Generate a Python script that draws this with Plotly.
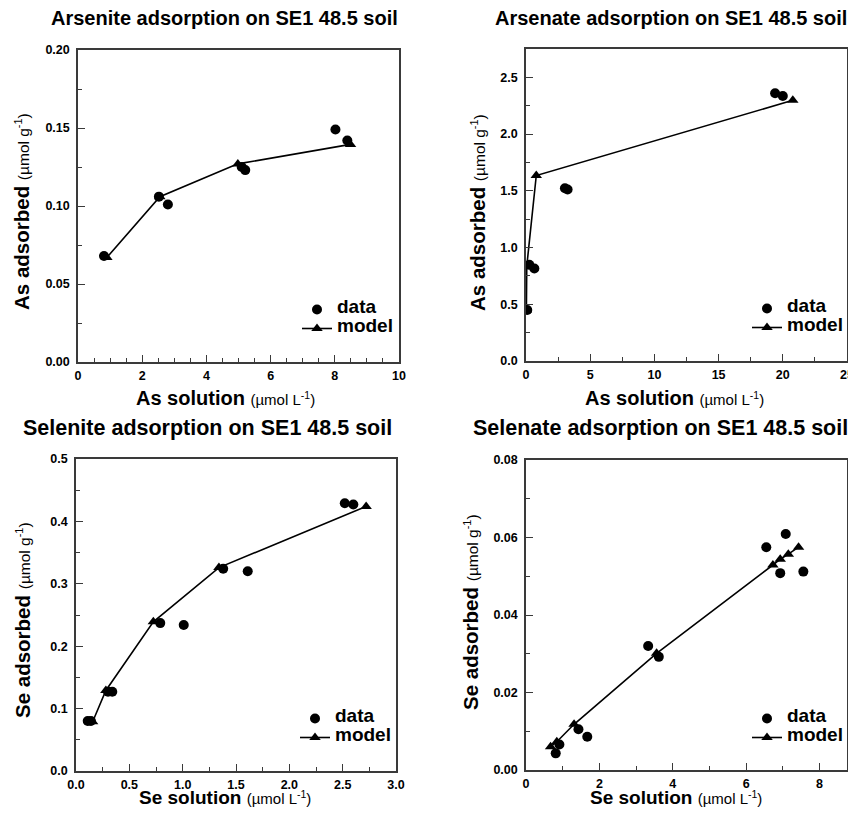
import plotly.graph_objects as go

# ---------------- data ----------------
as3_sol = [0.81, 2.52, 2.80, 5.10, 5.21, 8.02, 8.39]
as3_ads = [0.068, 0.106, 0.101, 0.125, 0.123, 0.149, 0.142]
as3_mod_x = [0.90, 2.55, 4.98, 8.49]
as3_mod_y = [0.067, 0.106, 0.127, 0.1395]

as5_sol = [0.10, 0.26, 0.65, 3.03, 3.24, 19.4, 20.0]
as5_ads = [0.45, 0.848, 0.816, 1.523, 1.512, 2.36, 2.336]
as5_mod_x = [0.03, 0.06, 0.80, 20.78]
as5_mod_y = [0.45, 0.835, 1.635, 2.298]

se4_sol = [0.11, 0.14, 0.30, 0.34, 0.79, 1.01, 1.38, 1.61, 2.52, 2.60]
se4_ads = [0.080, 0.080, 0.127, 0.127, 0.237, 0.234, 0.324, 0.320, 0.429, 0.427]
se4_mod_x = [0.156, 0.28, 0.725, 1.34, 2.72]
se4_mod_y = [0.079, 0.129, 0.239, 0.326, 0.424]

se6_sol = [0.81, 0.91, 1.43, 1.67, 3.33, 3.62, 6.55, 6.93, 7.08, 7.56]
se6_ads = [0.0043, 0.0066, 0.0105, 0.0086, 0.0320, 0.0292, 0.0575, 0.0508, 0.0609, 0.0512]
se6_mod_x = [0.67, 0.84, 1.31, 3.56, 6.73, 6.93, 7.15, 7.43]
se6_mod_y = [0.0060, 0.0073, 0.0118, 0.0301, 0.0529, 0.0544, 0.0557, 0.0575]

titles = ["Arsenite adsorption on SE1 48.5 soil", "Arsenate adsorption on SE1 48.5 soil",
          "Selenite adsorption on SE1 48.5 soil", "Selenate adsorption on SE1 48.5 soil"]
x_titles = ["As solution", "As solution", "Se solution", "Se solution"]
y_titles = ["As adsorbed", "As adsorbed", "Se adsorbed", "Se adsorbed"]
x_unit = "(µmol L<sup>-1</sup>)"
y_unit = "(µmol g<sup>-1</sup>)"
legend_labels = ["data", "model"]

OFF = 8                      # browser default body margin
W, H = 856 - OFF, 817 - 2 * OFF
FONT = "Liberation Sans, Arial, sans-serif"
FRAME = "#3a3a3a"


def px_x(v):
    return (v - OFF) / W


def px_y(v):
    return 1 - (v - OFF) / H


# panel frames in window pixels: (left, right, top, bottom)
frames = [(78, 399, 50, 362), (526, 847, 49, 361), (76, 396, 459, 771), (526, 847, 460, 770)]
# text placements in window pixels (x, y, font size)
title_pos = [(224, 18, 20), (671, 18, 20), (207, 428, 21.5), (660, 428, 21.5)]
xtitle_pos = [(225, 398, 20), (674, 398, 20), (225, 797, 19), (676, 797, 19)]
ytitle_pos = [(22, 212), (478, 212), (22, 620), (470, 612)]
legend_pos = [(297, 295), (747, 294), (295, 704), (747, 704)]

panels = [
    dict(x=as3_sol, y=as3_ads, mx=as3_mod_x, my=as3_mod_y, xr=[0, 10], xd=2, xm=0.5, xf="d",
         yr=[0, 0.2], yd=0.05, ym=0.025, yf=".2f"),
    dict(x=as5_sol, y=as5_ads, mx=as5_mod_x, my=as5_mod_y, xr=[0, 25], xd=5, xm=2.5, xf="d",
         yr=[0, 2.75], yd=0.5, ym=0.25, yf=".1f"),
    dict(x=se4_sol, y=se4_ads, mx=se4_mod_x, my=se4_mod_y, xr=[0, 3], xd=0.5, xm=0.25, xf=".1f",
         yr=[0, 0.5], yd=0.1, ym=0.05, yf=".1f"),
    dict(x=se6_sol, y=se6_ads, mx=se6_mod_x, my=se6_mod_y, xr=[0, 8.75], xd=2, xm=1, xf="d",
         yr=[0, 0.08], yd=0.02, ym=0.01, yf=".2f"),
]

fig = go.Figure()
layout = dict(width=W, height=H, margin=dict(l=0, r=0, t=0, b=0, autoexpand=False),
              paper_bgcolor="white", plot_bgcolor="white",
              font=dict(family=FONT, color="black"), annotations=[])


def ann(text, x, y, size, angle=0):
    return dict(text=text, xref="paper", yref="paper", x=px_x(x), y=px_y(y),
                xanchor="center", yanchor="middle", showarrow=False, textangle=angle,
                font=dict(size=size, family=FONT, color="black"))


for i, p in enumerate(panels):
    n = "" if i == 0 else str(i + 1)
    lg = "legend" + n
    xa, ya = "x" + n, "y" + n
    fig.add_trace(go.Scatter(x=p["mx"], y=p["my"], mode="lines+markers",
                             name="<span style='font-size:19px'>" + legend_labels[1] + "</span>",
                             line=dict(color="black", width=1.6),
                             marker=dict(symbol="triangle-up", size=10, color="black"),
                             xaxis=xa, yaxis=ya, legend=lg, legendrank=2))
    fig.add_trace(go.Scatter(x=p["x"], y=p["y"], mode="markers",
                             name="<span style='font-size:19px'>" + legend_labels[0] + "</span>",
                             marker=dict(symbol="circle", size=10, color="black"),
                             xaxis=xa, yaxis=ya, legend=lg, legendrank=1))
    l, r, t, b = frames[i]
    common = dict(showline=True, linecolor=FRAME, linewidth=1.5, mirror=True,
                  showgrid=False, zeroline=False, ticks="inside", ticklen=7,
                  tickcolor=FRAME, tickwidth=1, automargin=False,
                  ticklabeloverflow="allow",
                  tickfont=dict(family=FONT, size=12.5, color="black", weight="bold"))
    layout["xaxis" + n] = dict(common, domain=[px_x(l), px_x(r)], range=p["xr"], anchor=ya,
                               tick0=0, dtick=p["xd"], tickformat=p["xf"],
                               ticklabelstandoff=1,
                               minor=dict(ticks="inside", ticklen=4, dtick=p["xm"], tickcolor=FRAME))
    layout["yaxis" + n] = dict(common, domain=[px_y(b), px_y(t)], range=p["yr"], anchor=xa,
                               tick0=0, dtick=p["yd"], tickformat=p["yf"],
                               ticklabelstandoff=4,
                               minor=dict(ticks="inside", ticklen=4, dtick=p["ym"], tickcolor=FRAME))
    lx, ly = legend_pos[i]
    layout[lg] = dict(x=px_x(lx), y=px_y(ly), xanchor="left", yanchor="top",
                      bgcolor="rgba(0,0,0,0)", borderwidth=0,
                      font=dict(size=10, family=FONT, color="black", weight="bold"),
                      tracegroupgap=0, itemwidth=30)
    tx, ty, ts = title_pos[i]
    layout["annotations"].append(ann("<b>" + titles[i] + "</b>", tx, ty, ts))
    xx, xy, xs = xtitle_pos[i]
    layout["annotations"].append(ann("<b>" + x_titles[i] + "</b> <span style='font-size:15px'>"
                                     + x_unit + "</span>", xx, xy, xs))
    yx, yy = ytitle_pos[i]
    layout["annotations"].append(ann("<b>" + y_titles[i] + "</b> <span style='font-size:15.5px'>"
                                     + y_unit + "</span>", yx, yy, 20.5, angle=-90))

fig.update_layout(**layout)
fig.write_html("out.html")
